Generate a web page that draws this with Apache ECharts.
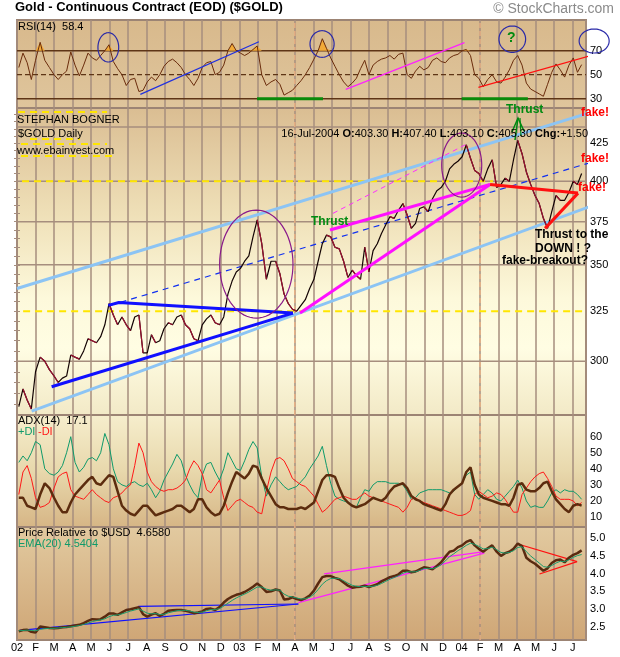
<!DOCTYPE html>
<html><head><meta charset="utf-8">
<script src="https://cdn.jsdelivr.net/npm/echarts@6/dist/echarts.min.js"></script>
<style>html,body{margin:0;padding:0;background:#fff}#c{width:620px;height:657px}</style>
</head><body><div id="c"></div>
<script>
// ---------- DATA (weekly closes, Fridays from 2002-01-04) ----------
const monthTickLabels = ['02','F','M','A','M','J','J','A','S','O','N','D','03','F','M','A','M','J','J','A','S','O','N','D','04','F','M','A','M','J','J'];
const firstFriday = [2002, 0, 4];
const price = [279,287,282,278, 295,302,300,296, 293,290,292,293,303, 302,301,305,311, 310,309,312,318,329,
  323,318,322,318, 315,322,323,304, 304,313,309,310,316, 319,318,322,323, 318,316,311,310, 318,321,323,319,318,
  322,334,341,346, 348,352,355,366,376, 362,342,352,352, 345,334,329,326, 325,328,331,337, 342,352,362,367,366,
  360,359,352,343, 347,344,342,360, 346,358,362,368,373, 378,377,382,386, 379,371,374,383,384, 381,389,394,396,
  400,408,411,413, 416,424,415,407,405, 400,408,414,396, 398,402,400,414, 427,418,406,398,391, 386,377,371,381,
  391,388,388,393, 400,398,405];
const rsi = [56,68,60,46, 62,77,62,56, 50,46,50,53,69, 58,49,58,68, 64,62,66,70,75, 61,55,50,41, 46,47,36,37,
  44,48,45,50,57, 61,63,60,56, 50,46,41,47, 56,60,61,50,52, 58,70,76,70, 68,66,68,71,74, 50,41,44,46, 42,33,35,37,
  41,45,50,56, 63,70,80,72,64, 57,50,44,40, 43,47,55,62, 50,58,61,63,64, 66,63,67,68, 50,47,53,57,54, 56,62,64,61,
  60,64,66,67, 70,71,66,50,47, 40,46,50,44, 43,48,54,62, 66,58,43,38,36, 34,32,42,52, 59,54,48,58, 64,52,58.4];
const adx = [22,22,17,16, 15,24,31,28, 22,17,13,13,19, 24,27,30,33, 35,31,30,33,36, 35,26,17,14, 12,11,14,17,
  17,14,11,12,13, 14,15,17,17, 15,13,15,21, 21,16,13,11,12, 17,25,32,38, 36,34,37,42,41, 34,28,23,18, 16,16,15,15,
  15,16,15,17, 19,26,33,36,36, 35,28,22,19, 17,16,17,18, 20,22,21,20,22, 26,29,30,31, 28,23,21,20,18, 17,16,15,14,
  18,24,27,29, 31,38,41,30,24, 22,21,20,19, 18,18,17,22, 30,31,27,26,26, 28,31,32,26, 21,18,15,13, 17,18,17.1];
const plusDI = [44,48,45,50, 57,55,40,37, 36,38,42,50,60, 44,38,41,46, 47,45,50,62,55, 40,32,30,29, 31,32,30,29,
  31,27,22,26,33, 38,43,49,45, 36,30,25,22, 36,43,44,38,33, 40,50,45,40, 39,45,52,57,53, 35,23,30,35, 32,29,27,28,
  29,32,35,40, 44,48,54,42,31, 23,21,20,19, 17,16,22,27, 26,30,32,32,32, 31,31,31,30, 26,21,22,25,26, 27,27,27,27,
  26,25,26,29, 31,36,38,24,21, 24,27,25,21, 20,23,26,29, 33,28,20,16,17, 16,16,20,25, 27,25,27,26, 26,24,21];
const minusDI = [24,38,42,34, 22,16,17,19, 28,35,37,38,27, 23,22,21,24, 27,24,22,20,19, 22,23,25,28, 30,42,56,50,
  38,32,29,27,26, 27,27,28,30, 33,40,45,42, 37,27,25,29,33, 22,14,17,20, 21,19,17,16,13, 12,26,38,46, 47,45,40,34,
  32,30,29,26, 23,18,13,15,18, 21,22,23,22, 21,21,23,25, 23,22,21,20,19, 18,17,16,13, 16,21,22,20,19, 18,17,16,15,
  14,13,12,11, 11,12,14,24,26, 24,22,23,25, 24,21,17,13, 13,24,28,32,35, 37,38,34,29, 23,21,21,21, 20,17,19];
const relUSD = [2.37,2.40,2.41,2.35, 2.33,2.50,2.48,2.46, 2.45,2.46,2.48,2.49,2.51, 2.53,2.55,2.60,2.66, 2.71,2.70,2.71,2.78,2.87,
  2.87,2.83,2.90,2.97, 2.99,3.02,3.05,2.85, 2.78,2.84,2.88,2.80,2.86, 2.95,2.96,2.97,2.97, 2.95,2.92,2.88,2.90,
  2.93,3.00,3.01,2.97,3.05, 3.18,3.28,3.35,3.40, 3.43,3.48,3.55,3.63,3.72, 3.62,3.48,3.50,3.55, 3.52,3.27,3.28,3.33,
  3.28,3.25,3.30,3.38, 3.52,3.72,3.90,3.93,3.93, 3.88,3.84,3.75,3.66, 3.60,3.62,3.63,3.66, 3.62,3.66,3.70,3.78,3.84,
  3.90,3.93,3.98,4.08, 4.08,4.04,4.06,4.12,4.18, 4.16,4.12,4.22,4.32, 4.48,4.62,4.65,4.75, 4.80,4.90,4.95,4.80,4.70,
  4.62,4.72,4.80,4.62, 4.50,4.58,4.62,4.70, 4.85,4.78,4.45,4.35,4.28, 4.18,4.08,4.15,4.30, 4.38,4.40,4.32,4.45, 4.53,4.58,4.658];
const ema20 = [2.38,2.39,2.40,2.39, 2.38,2.42,2.44,2.45, 2.45,2.46,2.47,2.48,2.49, 2.51,2.53,2.56,2.60, 2.64,2.67,2.69,2.72,2.78,
  2.82,2.83,2.86,2.90, 2.94,2.97,3.00,2.94, 2.88,2.86,2.87,2.84,2.85, 2.89,2.92,2.95,2.96, 2.96,2.94,2.91,2.90,
  2.91,2.95,2.98,2.98,3.01, 3.08,3.16,3.24,3.31, 3.37,3.42,3.48,3.55,3.62, 3.62,3.56,3.53,3.54, 3.53,3.42,3.36,3.34,
  3.31,3.28,3.29,3.33, 3.42,3.55,3.70,3.80,3.86, 3.87,3.86,3.80,3.73, 3.67,3.64,3.63,3.64, 3.63,3.64,3.67,3.72,3.78,
  3.84,3.89,3.94,4.01, 4.05,4.05,4.05,4.09,4.14, 4.15,4.14,4.18,4.25, 4.36,4.48,4.56,4.65, 4.72,4.80,4.86,4.83,4.77,
  4.70,4.71,4.75,4.68, 4.60,4.58,4.60,4.65, 4.74,4.76,4.62,4.50,4.40, 4.30,4.20,4.18,4.23, 4.30,4.35,4.34,4.39, 4.46,4.51,4.5404];

// axis label values
const rsiLabels = [30,50,70];
const priceLabels = [300,325,350,375,400,425];
const priceGridVals = [300,350,375,400,436.2];
const priceMinorTicks = [280,285,290,295,300,305,310,315,320,325,330,335,340,345,350,355,360,365,370,375,380,385,390,395,400,405,410,415,420,425,430,435,440,445];
const adxLabels = [10,20,30,40,50,60];
const relLabels = [2.5,3.0,3.5,4.0,4.5,5.0];

// user-drawn annotations, data coords [month index since Jan-2002, value]
const rsiBlueTrend = [[6.66,33.6],[13.06,77.5]];
const rsiMagentaTrend = [[17.75,37.8],[24.16,76.7]];
const rsiRedTrend = [[24.91,39.4],[32.38,72]];
const rsiGreenBase1 = [[12.96,30],[16.52,30]];
const rsiGreenBase2 = [[24.01,30],[27.58,30]];
const rsiCircles = [[4.93,72.8,0.56,85],[16.47,75.6,0.65,86.7],[26.74,79.6,0.72,90.6],[31.16,78.1,0.81,88.1]];
const chanLower = [[0.79,277],[32.56,391]];
const chanUpper = [[0,337],[32.56,453]];
const chanMidDashed = [[5.02,328],[32.56,418]];
const magentaDashed = [[17.06,380],[24.35,425]];
const magentaThick1 = [[15.28,324],[25.54,398]];
const magentaThick2 = [[16.9,370],[25.54,398]];
const blueTriTop = [[4.93,328],[5.5,329.5],[14.9,324]];
const blueTriLow = [[1.87,288],[14.9,324]];
const redTriTop = [[25.54,398],[30.29,392.5]];
const redTriLow = [[28.51,371],[30.29,392.5]];
const yellow400 = [[0.27,400],[25.7,400]];
const yellow325 = [[0.33,325],[30.72,325]];
const priceEllipses = [[12.92,350.4,1.98,382],[24.01,410.5,1.08,432.1]];
const relBlueLow = [[0.15,2.39],[15.19,3.14]];
const relBlueTop = [[6.55,3.07],[15.19,3.14]];
const relMagLow = [[15.19,3.18],[25.23,4.58]];
const relMagTop = [[16.58,3.99],[25.23,4.62]];
const relRedTop = [[27.04,4.84],[30.24,4.34]];
const relRedLow = [[28.21,3.99],[30.24,4.34]];
const markerMonths = [15, 25];

// ---------- BUILD ----------
const X_MAX = 30.72;
const FONT = '"Liberation Sans", Arial, sans-serif';
const GRID_C = '#a68e7e';
function monthIndex(d){const y=d.getUTCFullYear(),mo=d.getUTCMonth(),day=d.getUTCDate();const dim=new Date(Date.UTC(y,mo+1,0)).getUTCDate();return (y-2002)*12+mo+(day-1)/dim;}
const weekX = price.map((_,i)=>monthIndex(new Date(Date.UTC(firstFriday[0],firstFriday[1],firstFriday[2]+7*i))));
const pts = arr => arr.map((v,i)=>[weekX[i],v]);
// down-week segments of the price line (drawn dark red like the original bars)
function downSegments(arr){const out=[];for(let i=1;i<arr.length;i++){if(arr[i]<arr[i-1]){if(!(i>1&&arr[i-1]<arr[i-2]))out.push([weekX[i-1],arr[i-1]]);out.push([weekX[i],arr[i]]);if(!(i+1<arr.length&&arr[i+1]<arr[i]))out.push([weekX[i],null]);}}return out;}

const yr = {rsi:[22.25,95.6], price:[275.3,449.7], adx:[3.77,73.5], rel:[2.12,5.32]};

function grid(top,h,bg){return {left:17,right:34,top:top,height:h,show:true,borderColor:'#9c8474',borderWidth:2,backgroundColor:bg,containLabel:false};}
function lg(stops){return {type:'linear',x:0,y:0,x2:0,y2:1,colorStops:stops.map(s=>({offset:s[0],color:s[1]}))};}
function xAx(i,show){return {type:'value',gridIndex:i,min:0,max:X_MAX,interval:1,axisLine:{show:false},axisTick:{show:false},
  splitLine:{show:true,lineStyle:{color:GRID_C,width:1.5}},
  axisLabel:{show:show,showMaxLabel:false,fontSize:11,color:'#000',fontFamily:FONT,margin:2,
    formatter:v=>{const k=Math.round(v);return Math.abs(v-k)<1e-6&&k<monthTickLabels.length?monthTickLabels[k]:'';}}};}
function yVal(i,r,labels,fmt){return {type:'value',gridIndex:i,position:'right',min:r[0],max:r[1],axisLine:{show:false},axisTick:{show:false},splitLine:{show:false},
  axisLabel:{customValues:labels,fontSize:11,color:'#000',fontFamily:FONT,margin:4,formatter:fmt||(v=>String(v))}};}

function line(xi,yi,data,color,width,opts){return Object.assign({type:'line',xAxisIndex:xi,yAxisIndex:yi,data:data,showSymbol:false,symbol:'none',silent:true,
  lineStyle:{color:color,width:width},z:4,animation:false},opts||{});}
function ellipses(xi,yi,data,color,width){return {type:'custom',xAxisIndex:xi,yAxisIndex:yi,coordinateSystem:'cartesian2d',silent:true,z:6,clip:false,data:data,
  renderItem:(p,api)=>{const c=api.coord([api.value(0),api.value(1)]);const r=api.coord([api.value(0)+api.value(2),api.value(1)]);const t=api.coord([api.value(0),api.value(3)]);
    const rx=Math.abs(r[0]-c[0]),ry=Math.abs(c[1]-t[1]);const pp=[];for(let k=0;k<72;k++){const a=k/72*Math.PI*2;pp.push([c[0]+rx*Math.cos(a),c[1]+ry*Math.sin(a)]);}
    return {type:'polygon',shape:{points:pp},style:{fill:'none',stroke:color,lineWidth:width}};}};}
function markers(xi,yi,r){return markerMonths.map(m=>line(xi,yi,[[m,r[0]],[m,r[1]]],'#f2b483',1,{lineStyle:{color:'#f2b483',width:1.2,type:[5,3]},z:2}));}
function hline(xi,yi,v,color,width,type,z){return line(xi,yi,[[0,v],[X_MAX,v]],color,width,{lineStyle:{color:color,width:width,type:type||'solid'},z:z||2});}

const series = [];
// RSI panel
series.push(...markers(0,0,yr.rsi));
series.push(hline(0,0,70,'#5e3516',1.5));
series.push(hline(0,0,50,'#5e3516',1.2,[5,3]));
series.push(hline(0,0,30,'#5e3516',1.5));
series.push(line(0,0,pts(rsi.map(v=>Math.max(v,70))),'#f0a830',0,{lineStyle:{width:0},areaStyle:{color:'#f2aa38',origin:70,opacity:1},z:3}));
series.push(line(0,0,pts(rsi),'#6a2c0c',1,{z:4}));
series.push(line(0,0,rsiBlueTrend,'#2030e0',1.2,{z:5}));
series.push(line(0,0,rsiMagentaTrend,'#ff20ff',1.2,{z:5}));
series.push(line(0,0,rsiRedTrend,'#ff1010',1.2,{z:5,clip:false}));
series.push(line(0,0,rsiGreenBase1,'#0a8a0a',3,{z:5}));
series.push(line(0,0,rsiGreenBase2,'#0a8a0a',3,{z:5}));
series.push(ellipses(0,0,rsiCircles,'#2a2aa8',1.2));
// Main panel
series.push(...markers(1,1,yr.price));
priceGridVals.forEach(v=>series.push(hline(1,1,v,GRID_C,1.5,'solid',1)));
series.push(line(1,1,yellow400,'#ffe600',2,{lineStyle:{color:'#ffe600',width:2,type:[7,5]},z:3}));
series.push(line(1,1,yellow325,'#ffe600',2,{lineStyle:{color:'#ffe600',width:2,type:[7,5]},z:3}));
series.push(line(1,1,chanUpper,'#8cc4f4',3,{z:3,clip:false}));
series.push(line(1,1,chanLower,'#8cc4f4',3,{z:3,clip:false}));
series.push(line(1,1,chanMidDashed,'#1030f0',1,{lineStyle:{color:'#1030f0',width:1.2,type:[6,5]},z:3,clip:false}));
series.push(line(1,1,magentaDashed,'#ff30ff',1,{lineStyle:{color:'#ff30ff',width:1,type:[5,4]},z:3}));
series.push(line(1,1,pts(price),'#140404',1.2,{z:4}));
series.push(line(1,1,downSegments(price),'#9c1030',1.2,{z:4,connectNulls:false}));
series.push(line(1,1,blueTriTop,'#1010ff',3,{z:5}));
series.push(line(1,1,blueTriLow,'#1010ff',3,{z:5}));
series.push(line(1,1,magentaThick1,'#ff10ff',3,{z:5}));
series.push(line(1,1,magentaThick2,'#ff10ff',3,{z:5}));
series.push(line(1,1,redTriTop,'#ff1010',3,{z:5}));
series.push(line(1,1,redTriLow,'#ff1010',3,{z:5}));
series.push(ellipses(1,1,priceEllipses,'#8a1a8a',1.2));
// ADX panel
series.push(...markers(2,3,yr.adx));
series.push(line(2,3,pts(plusDI),'#0f9a6a',1,{z:3}));
series.push(line(2,3,pts(minusDI),'#ff1818',1,{z:3}));
series.push(line(2,3,pts(adx),'#5c2c0e',2.5,{z:4}));
// Relative panel
series.push(...markers(3,4,yr.rel));
series.push(line(3,4,relBlueLow,'#1010ff',1.2,{z:3}));
series.push(line(3,4,relBlueTop,'#1010ff',1.2,{z:3}));
series.push(line(3,4,relMagLow,'#ff20ff',1.2,{z:3}));
series.push(line(3,4,relMagTop,'#ff20ff',1.2,{z:3}));
series.push(line(3,4,relRedTop,'#ff1010',1.2,{z:3}));
series.push(line(3,4,relRedLow,'#ff1010',1.2,{z:3}));
series.push(line(3,4,pts(relUSD),'#5a2a10',2.5,{z:4}));
series.push(line(3,4,pts(ema20),'#1a9c6c',1,{z:5}));

function txt(left,top,text,font,fill,extra){return Object.assign({type:'text',left:left,top:top,z:100,silent:true,style:{text:text,font:font,fill:fill}},extra||{});}
function yd(x1,y1,x2){return {type:'line',z:90,silent:true,shape:{x1:x1,y1:y1,x2:x2,y2:y1},style:{stroke:'#ffe600',lineWidth:2,lineDash:[7,5]}};}
const F11 = '11px '+FONT, B12 = 'bold 12px '+FONT;
const graphic = [
  txt(15,1,'Gold - Continuous Contract (EOD) ($GOLD)','bold 13px '+FONT,'#000'),
  txt(null,2,'© StockCharts.com','14px '+FONT,'#8a8a8a',{right:6}),
  txt(18,21,'RSI(14)  58.4',F11,'#000'),
  yd(18,112,107), yd(30,139,80), yd(21,144,107), yd(21,156,117),
  txt(17,114,'STEPHAN BOGNER','11px '+FONT,'#000'),
  txt(18,128,'$GOLD Daily',F11,'#000'),
  txt(17,145,'www.ebainvest.com',F11,'#000'),
  {type:'text',right:32,top:128,z:100,silent:true,style:{text:'16-Jul-2004 {b|O:}403.30 {b|H:}407.40 {b|L:}403.10 {b|C:}405.30 {b|Chg:}+1.50',font:F11,fill:'#000',rich:{b:{fontWeight:'bold',fontSize:11,fontFamily:FONT}}}},
  txt(311,216,'Thrust',B12,'#008a10'),
  txt(506,104,'Thrust',B12,'#008a10'),
  {type:'polyline',z:95,silent:true,shape:{points:[[512,132],[518,118],[524,131]]},style:{stroke:'#008a10',lineWidth:1.5,fill:'none'}},
  {type:'line',z:95,silent:true,shape:{x1:518,y1:118,x2:515,y2:140},style:{stroke:'#008a10',lineWidth:1.5}},
  {type:'line',z:95,silent:true,shape:{x1:520,y1:118,x2:521,y2:136},style:{stroke:'#008a10',lineWidth:1.2}},
  txt(581,107,'fake!',B12,'#ff0000'),
  txt(581,153,'fake!',B12,'#ff0000'),
  txt(578,182,'fake!',B12,'#ff0000'),
  txt(535,229,'Thrust to the',B12,'#000'),
  txt(535,243,'DOWN ! ?',B12,'#000'),
  txt(502,255,'fake-breakout?',B12,'#000'),
  txt(507,31,'?','bold 14px '+FONT,'#008a10'),
  txt(18,415,'ADX(14)  17.1',F11,'#000'),
  txt(18,426,'+DI',F11,'#0f9a6a'),
  txt(38,426,'-DI',F11,'#ff1818'),
  txt(18,527,'Price Relative to $USD  4.6580',F11,'#000'),
  txt(18,538,'EMA(20) 4.5404',F11,'#0f9a6a')
];

const option = {
  animation:false,
  backgroundColor:'#ffffff',
  grid:[
    grid(20,88,lg([[0,'#d8b98c'],[1,'#dfc59c']])),
    grid(108,307,lg([[0,'#dabd92'],[0.35,'#efe0b8'],[0.62,'#fdf9db'],[0.78,'#fffde3'],[1,'#f2e9c6']])),
    grid(415,112,lg([[0,'#f6eecd'],[0.5,'#e8d8ac'],[1,'#d6b585']])),
    grid(527,113,lg([[0,'#e2caa0'],[1,'#cfa676']]))
  ],
  xAxis:[xAx(0,false),xAx(1,false),xAx(2,false),xAx(3,true)],
  yAxis:[
    yVal(0,yr.rsi,rsiLabels),
    {type:'log',logBase:10,gridIndex:1,position:'right',min:yr.price[0],max:yr.price[1],axisLine:{show:false},splitLine:{show:false},
      axisTick:{show:true,inside:true,length:3,customValues:priceMinorTicks,lineStyle:{color:GRID_C}},
      axisLabel:{customValues:priceLabels,fontSize:11,color:'#000',fontFamily:FONT,margin:4,formatter:v=>String(Math.round(v))}},
    {type:'log',logBase:10,gridIndex:1,position:'left',min:yr.price[0],max:yr.price[1],axisLine:{show:false},splitLine:{show:false},
      axisTick:{show:true,inside:true,length:3,customValues:priceMinorTicks,lineStyle:{color:GRID_C}},axisLabel:{show:false}},
    yVal(2,yr.adx,adxLabels),
    yVal(3,yr.rel,relLabels,v=>v.toFixed(1))
  ],
  series:series,
  graphic:graphic
};
const chart = echarts.init(document.getElementById('c'),null,{renderer:'canvas'});
chart.setOption(option);
</script></body></html>
